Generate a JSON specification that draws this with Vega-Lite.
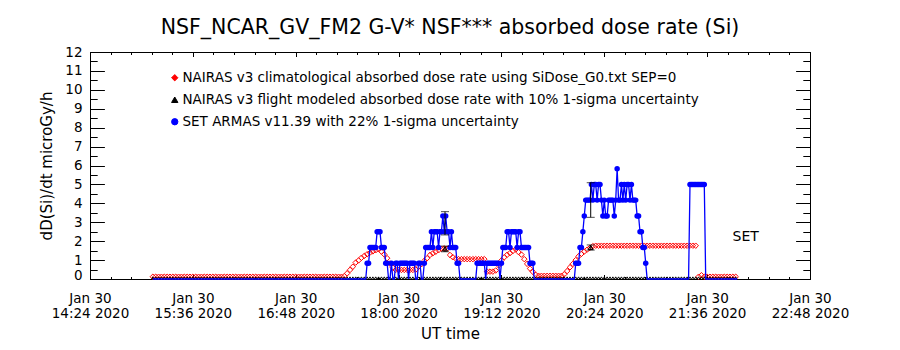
{
"$schema": "https://vega.github.io/schema/vega-lite/v6.json",
"width": 720, "height": 227,
"autosize": {"type": "none"},
"padding": {"left": 90, "top": 52, "right": 90, "bottom": 71},
"background": "white",
"title": {"text": "NSF_NCAR_GV_FM2 G-V* NSF*** absorbed dose rate (Si)", "anchor": "middle", "font": "DejaVu Sans", "fontSize": 20.5, "fontWeight": "normal", "color": "black", "offset": 7},
"config": {
  "view": {"stroke": "black", "strokeWidth": 1},
  "font": "DejaVu Sans",
  "axis": {"grid": false, "domain": false, "labelColor": "black", "tickColor": "black", "titleColor": "black", "labelFont": "DejaVu Sans", "titleFont": "DejaVu Sans", "titleFontWeight": "normal", "tickWidth": 1}
},
"datasets": {
"model": [
{"t":"2020-01-30T15:08:00Z","clim":0.12,"flight":0},{"t":"2020-01-30T15:10:00Z","clim":0.12,"flight":0},{"t":"2020-01-30T15:12:00Z","clim":0.12,"flight":0},{"t":"2020-01-30T15:14:00Z","clim":0.12,"flight":0},{"t":"2020-01-30T15:16:00Z","clim":0.12,"flight":0},{"t":"2020-01-30T15:18:00Z","clim":0.12,"flight":0},{"t":"2020-01-30T15:20:00Z","clim":0.12,"flight":0},{"t":"2020-01-30T15:22:00Z","clim":0.12,"flight":0},{"t":"2020-01-30T15:24:00Z","clim":0.12,"flight":0},{"t":"2020-01-30T15:26:00Z","clim":0.12,"flight":0},{"t":"2020-01-30T15:28:00Z","clim":0.12,"flight":0},{"t":"2020-01-30T15:30:00Z","clim":0.12,"flight":0},{"t":"2020-01-30T15:32:00Z","clim":0.12,"flight":0},{"t":"2020-01-30T15:34:00Z","clim":0.12,"flight":0},{"t":"2020-01-30T15:36:00Z","clim":0.12,"flight":0},{"t":"2020-01-30T15:38:00Z","clim":0.12,"flight":0},{"t":"2020-01-30T15:40:00Z","clim":0.12,"flight":0},{"t":"2020-01-30T15:42:00Z","clim":0.12,"flight":0},{"t":"2020-01-30T15:44:00Z","clim":0.12,"flight":0},{"t":"2020-01-30T15:46:00Z","clim":0.12,"flight":0},{"t":"2020-01-30T15:48:00Z","clim":0.12,"flight":0},{"t":"2020-01-30T15:50:00Z","clim":0.12,"flight":0},{"t":"2020-01-30T15:52:00Z","clim":0.12,"flight":0},{"t":"2020-01-30T15:54:00Z","clim":0.12,"flight":0},{"t":"2020-01-30T15:56:00Z","clim":0.12,"flight":0},{"t":"2020-01-30T15:58:00Z","clim":0.12,"flight":0},
{"t":"2020-01-30T16:00:00Z","clim":0.12,"flight":0},{"t":"2020-01-30T16:02:00Z","clim":0.12,"flight":0},{"t":"2020-01-30T16:04:00Z","clim":0.12,"flight":0},{"t":"2020-01-30T16:06:00Z","clim":0.12,"flight":0},{"t":"2020-01-30T16:08:00Z","clim":0.12,"flight":0},{"t":"2020-01-30T16:10:00Z","clim":0.12,"flight":0},{"t":"2020-01-30T16:12:00Z","clim":0.12,"flight":0},{"t":"2020-01-30T16:14:00Z","clim":0.12,"flight":0},{"t":"2020-01-30T16:16:00Z","clim":0.12,"flight":0},{"t":"2020-01-30T16:18:00Z","clim":0.12,"flight":0},{"t":"2020-01-30T16:20:00Z","clim":0.12,"flight":0},{"t":"2020-01-30T16:22:00Z","clim":0.12,"flight":0},{"t":"2020-01-30T16:24:00Z","clim":0.12,"flight":0},{"t":"2020-01-30T16:26:00Z","clim":0.12,"flight":0},{"t":"2020-01-30T16:28:00Z","clim":0.12,"flight":0},{"t":"2020-01-30T16:30:00Z","clim":0.12,"flight":0},{"t":"2020-01-30T16:32:00Z","clim":0.12,"flight":0},{"t":"2020-01-30T16:34:00Z","clim":0.12,"flight":0},{"t":"2020-01-30T16:36:00Z","clim":0.12,"flight":0},{"t":"2020-01-30T16:38:00Z","clim":0.12,"flight":0},{"t":"2020-01-30T16:40:00Z","clim":0.12,"flight":0},{"t":"2020-01-30T16:42:00Z","clim":0.12,"flight":0},{"t":"2020-01-30T16:44:00Z","clim":0.12,"flight":0},{"t":"2020-01-30T16:46:00Z","clim":0.12,"flight":0},{"t":"2020-01-30T16:48:00Z","clim":0.12,"flight":0},{"t":"2020-01-30T16:50:00Z","clim":0.12,"flight":0},{"t":"2020-01-30T16:52:00Z","clim":0.12,"flight":0},{"t":"2020-01-30T16:54:00Z","clim":0.12,"flight":0},{"t":"2020-01-30T16:56:00Z","clim":0.12,"flight":0},{"t":"2020-01-30T16:58:00Z","clim":0.12,"flight":0},
{"t":"2020-01-30T17:00:00Z","clim":0.12,"flight":0},{"t":"2020-01-30T17:02:00Z","clim":0.12,"flight":0},{"t":"2020-01-30T17:04:00Z","clim":0.12,"flight":0},{"t":"2020-01-30T17:06:00Z","clim":0.12,"flight":0},{"t":"2020-01-30T17:08:00Z","clim":0.12,"flight":0},{"t":"2020-01-30T17:10:00Z","clim":0.12,"flight":0},{"t":"2020-01-30T17:12:00Z","clim":0.12,"flight":0},{"t":"2020-01-30T17:14:00Z","clim":0.12,"flight":0},{"t":"2020-01-30T17:16:00Z","clim":0.12,"flight":0},{"t":"2020-01-30T17:18:00Z","clim":0.12,"flight":0},{"t":"2020-01-30T17:20:00Z","clim":0.12,"flight":0},
{"t":"2020-01-30T17:22:00Z","clim":0.15,"flight":0},{"t":"2020-01-30T17:24:00Z","clim":0.3,"flight":0},{"t":"2020-01-30T17:26:00Z","clim":0.48,"flight":0},{"t":"2020-01-30T17:28:00Z","clim":0.65,"flight":0},{"t":"2020-01-30T17:30:00Z","clim":0.87,"flight":0},{"t":"2020-01-30T17:32:00Z","clim":0.98,"flight":0},{"t":"2020-01-30T17:34:00Z","clim":1.12,"flight":0},{"t":"2020-01-30T17:36:00Z","clim":1.22,"flight":0},{"t":"2020-01-30T17:38:00Z","clim":1.31,"flight":0},{"t":"2020-01-30T17:40:00Z","clim":1.39,"flight":0},{"t":"2020-01-30T17:42:00Z","clim":1.46,"flight":0},{"t":"2020-01-30T17:44:00Z","clim":1.52,"flight":0},{"t":"2020-01-30T17:46:00Z","clim":1.57,"flight":0},{"t":"2020-01-30T17:48:00Z","clim":1.45,"flight":0},{"t":"2020-01-30T17:50:00Z","clim":1.3,"flight":0},{"t":"2020-01-30T17:52:00Z","clim":1.1,"flight":0},{"t":"2020-01-30T17:54:00Z","clim":0.82,"flight":0},{"t":"2020-01-30T17:56:00Z","clim":0.6,"flight":0},{"t":"2020-01-30T17:58:00Z","clim":0.48,"flight":0},
{"t":"2020-01-30T18:00:00Z","clim":0.48,"flight":0},{"t":"2020-01-30T18:02:00Z","clim":0.48,"flight":0},{"t":"2020-01-30T18:04:00Z","clim":0.48,"flight":0},{"t":"2020-01-30T18:06:00Z","clim":0.48,"flight":0},{"t":"2020-01-30T18:08:00Z","clim":0.48,"flight":0},{"t":"2020-01-30T18:10:00Z","clim":0.48,"flight":0},{"t":"2020-01-30T18:12:00Z","clim":0.5,"flight":0},{"t":"2020-01-30T18:14:00Z","clim":0.65,"flight":0},{"t":"2020-01-30T18:16:00Z","clim":0.78,"flight":0},{"t":"2020-01-30T18:18:00Z","clim":0.96,"flight":0},{"t":"2020-01-30T18:20:00Z","clim":1.1,"flight":0},{"t":"2020-01-30T18:22:00Z","clim":1.27,"flight":0},{"t":"2020-01-30T18:24:00Z","clim":1.36,"flight":0},{"t":"2020-01-30T18:26:00Z","clim":1.44,"flight":0},{"t":"2020-01-30T18:28:00Z","clim":1.52,"flight":0},{"t":"2020-01-30T18:30:00Z","clim":1.6,"flight":0},{"t":"2020-01-30T18:32:00Z","clim":1.62,"flight":0},{"t":"2020-01-30T18:34:00Z","clim":1.6,"flight":0},{"t":"2020-01-30T18:36:00Z","clim":1.27,"flight":0},{"t":"2020-01-30T18:38:00Z","clim":1.15,"flight":0},{"t":"2020-01-30T18:40:00Z","clim":1.08,"flight":0},{"t":"2020-01-30T18:42:00Z","clim":1.05,"flight":0},{"t":"2020-01-30T18:44:00Z","clim":1.05,"flight":0},{"t":"2020-01-30T18:46:00Z","clim":1.05,"flight":0},{"t":"2020-01-30T18:48:00Z","clim":1.05,"flight":0},{"t":"2020-01-30T18:50:00Z","clim":1.05,"flight":0},{"t":"2020-01-30T18:52:00Z","clim":1.05,"flight":0},{"t":"2020-01-30T18:54:00Z","clim":1.05,"flight":0},{"t":"2020-01-30T18:56:00Z","clim":1.05,"flight":0},{"t":"2020-01-30T18:58:00Z","clim":1.05,"flight":0},
{"t":"2020-01-30T19:00:00Z","clim":1.05,"flight":0},{"t":"2020-01-30T19:02:00Z","clim":0.39,"flight":0},{"t":"2020-01-30T19:04:00Z","clim":0.39,"flight":0},{"t":"2020-01-30T19:06:00Z","clim":0.39,"flight":0},{"t":"2020-01-30T19:08:00Z","clim":0.45,"flight":0},{"t":"2020-01-30T19:10:00Z","clim":0.72,"flight":0},{"t":"2020-01-30T19:12:00Z","clim":0.98,"flight":0},{"t":"2020-01-30T19:14:00Z","clim":1.15,"flight":0},{"t":"2020-01-30T19:16:00Z","clim":1.28,"flight":0},{"t":"2020-01-30T19:18:00Z","clim":1.37,"flight":0},{"t":"2020-01-30T19:20:00Z","clim":1.48,"flight":0},{"t":"2020-01-30T19:22:00Z","clim":1.57,"flight":0},{"t":"2020-01-30T19:24:00Z","clim":1.42,"flight":0},{"t":"2020-01-30T19:26:00Z","clim":1.29,"flight":0},{"t":"2020-01-30T19:28:00Z","clim":1.05,"flight":0},{"t":"2020-01-30T19:30:00Z","clim":0.8,"flight":0},{"t":"2020-01-30T19:32:00Z","clim":0.55,"flight":0},{"t":"2020-01-30T19:34:00Z","clim":0.38,"flight":0},{"t":"2020-01-30T19:36:00Z","clim":0.22,"flight":0},{"t":"2020-01-30T19:38:00Z","clim":0.17,"flight":0},{"t":"2020-01-30T19:40:00Z","clim":0.17,"flight":0},{"t":"2020-01-30T19:42:00Z","clim":0.17,"flight":0},{"t":"2020-01-30T19:44:00Z","clim":0.17,"flight":0},{"t":"2020-01-30T19:46:00Z","clim":0.17,"flight":0},{"t":"2020-01-30T19:48:00Z","clim":0.17,"flight":0},{"t":"2020-01-30T19:50:00Z","clim":0.17,"flight":0},{"t":"2020-01-30T19:52:00Z","clim":0.17,"flight":0},{"t":"2020-01-30T19:54:00Z","clim":0.17,"flight":0},{"t":"2020-01-30T19:56:00Z","clim":0.25,"flight":0},{"t":"2020-01-30T19:58:00Z","clim":0.42,"flight":0},
{"t":"2020-01-30T20:00:00Z","clim":0.62,"flight":0},{"t":"2020-01-30T20:02:00Z","clim":0.8,"flight":0},{"t":"2020-01-30T20:04:00Z","clim":1.0,"flight":0},{"t":"2020-01-30T20:06:00Z","clim":1.2,"flight":0},{"t":"2020-01-30T20:08:00Z","clim":1.33,"flight":0},{"t":"2020-01-30T20:10:00Z","clim":1.45,"flight":0},{"t":"2020-01-30T20:12:00Z","clim":1.55,"flight":0},{"t":"2020-01-30T20:14:00Z","clim":1.65,"flight":0},{"t":"2020-01-30T20:16:00Z","clim":1.74,"flight":0},{"t":"2020-01-30T20:18:00Z","clim":1.76,"flight":0},{"t":"2020-01-30T20:20:00Z","clim":1.76,"flight":0},{"t":"2020-01-30T20:22:00Z","clim":1.76,"flight":0},{"t":"2020-01-30T20:24:00Z","clim":1.76,"flight":0},{"t":"2020-01-30T20:26:00Z","clim":1.76,"flight":0},{"t":"2020-01-30T20:28:00Z","clim":1.76,"flight":0},{"t":"2020-01-30T20:30:00Z","clim":1.76,"flight":0},{"t":"2020-01-30T20:32:00Z","clim":1.76,"flight":0},{"t":"2020-01-30T20:34:00Z","clim":1.76,"flight":0},{"t":"2020-01-30T20:36:00Z","clim":1.76,"flight":0},{"t":"2020-01-30T20:38:00Z","clim":1.76,"flight":0},{"t":"2020-01-30T20:40:00Z","clim":1.76,"flight":0},{"t":"2020-01-30T20:42:00Z","clim":1.76,"flight":0},{"t":"2020-01-30T20:44:00Z","clim":1.76,"flight":0},{"t":"2020-01-30T20:46:00Z","clim":1.76,"flight":0},{"t":"2020-01-30T20:48:00Z","clim":1.76,"flight":0},{"t":"2020-01-30T20:50:00Z","clim":1.76,"flight":0},{"t":"2020-01-30T20:52:00Z","clim":1.76,"flight":0},{"t":"2020-01-30T20:54:00Z","clim":1.76,"flight":0},{"t":"2020-01-30T20:56:00Z","clim":1.76,"flight":0},{"t":"2020-01-30T20:58:00Z","clim":1.76,"flight":0},
{"t":"2020-01-30T21:00:00Z","clim":1.76,"flight":0},{"t":"2020-01-30T21:02:00Z","clim":1.76,"flight":0},{"t":"2020-01-30T21:04:00Z","clim":1.76,"flight":0},{"t":"2020-01-30T21:06:00Z","clim":1.76,"flight":0},{"t":"2020-01-30T21:08:00Z","clim":1.76,"flight":0},{"t":"2020-01-30T21:10:00Z","clim":1.76,"flight":0},{"t":"2020-01-30T21:12:00Z","clim":1.76,"flight":0},{"t":"2020-01-30T21:14:00Z","clim":1.76,"flight":0},{"t":"2020-01-30T21:16:00Z","clim":1.76,"flight":0},{"t":"2020-01-30T21:18:00Z","clim":1.76,"flight":0},{"t":"2020-01-30T21:20:00Z","clim":1.76,"flight":0},{"t":"2020-01-30T21:22:00Z","clim":1.76,"flight":0},{"t":"2020-01-30T21:24:00Z","clim":1.76,"flight":0},{"t":"2020-01-30T21:26:00Z","clim":1.76,"flight":0},{"t":"2020-01-30T21:28:00Z","clim":1.76,"flight":0},{"t":"2020-01-30T21:30:00Z","clim":0.12,"flight":0},{"t":"2020-01-30T21:32:00Z","clim":0.2,"flight":0},{"t":"2020-01-30T21:34:00Z","clim":0.12,"flight":0},{"t":"2020-01-30T21:36:00Z","clim":0.12,"flight":0},{"t":"2020-01-30T21:38:00Z","clim":0.12,"flight":0},{"t":"2020-01-30T21:40:00Z","clim":0.12,"flight":0},{"t":"2020-01-30T21:42:00Z","clim":0.12,"flight":0},{"t":"2020-01-30T21:44:00Z","clim":0.12,"flight":0},{"t":"2020-01-30T21:46:00Z","clim":0.12,"flight":0},{"t":"2020-01-30T21:48:00Z","clim":0.12,"flight":0},{"t":"2020-01-30T21:50:00Z","clim":0.12,"flight":0},{"t":"2020-01-30T21:52:00Z","clim":0.12,"flight":0},{"t":"2020-01-30T21:54:00Z","clim":0.12,"flight":0},{"t":"2020-01-30T21:56:00Z","clim":0.12,"flight":0},
{"t":"2020-01-30T18:32:30Z","flight":1.59},{"t":"2020-01-30T20:14:30Z","flight":1.665}
],
"set": [
{"t":"2020-01-30T15:08:00Z","dose":0},{"t":"2020-01-30T17:37:00Z","dose":0},{"t":"2020-01-30T17:38:00Z","dose":0.83},{"t":"2020-01-30T17:39:00Z","dose":0.83},{"t":"2020-01-30T17:40:00Z","dose":1.67},{"t":"2020-01-30T17:41:00Z","dose":1.67},{"t":"2020-01-30T17:42:00Z","dose":1.67},{"t":"2020-01-30T17:43:00Z","dose":1.67},{"t":"2020-01-30T17:44:00Z","dose":1.67},{"t":"2020-01-30T17:45:00Z","dose":2.5},{"t":"2020-01-30T17:46:00Z","dose":2.5},{"t":"2020-01-30T17:47:00Z","dose":2.5},{"t":"2020-01-30T17:48:00Z","dose":1.67},{"t":"2020-01-30T17:49:00Z","dose":1.67},{"t":"2020-01-30T17:50:00Z","dose":1.67},{"t":"2020-01-30T17:51:00Z","dose":0.83},{"t":"2020-01-30T17:52:00Z","dose":0.83},{"t":"2020-01-30T17:53:00Z","dose":0},{"t":"2020-01-30T17:54:00Z","dose":0},{"t":"2020-01-30T17:55:00Z","dose":0.83},{"t":"2020-01-30T17:56:00Z","dose":0},{"t":"2020-01-30T17:57:00Z","dose":0},{"t":"2020-01-30T17:58:00Z","dose":0.83},{"t":"2020-01-30T17:59:00Z","dose":0.83},
{"t":"2020-01-30T18:00:00Z","dose":0},{"t":"2020-01-30T18:01:00Z","dose":0.83},{"t":"2020-01-30T18:02:00Z","dose":0.83},{"t":"2020-01-30T18:03:00Z","dose":0.83},{"t":"2020-01-30T18:04:00Z","dose":0.83},{"t":"2020-01-30T18:05:00Z","dose":0.83},{"t":"2020-01-30T18:06:00Z","dose":0.83},{"t":"2020-01-30T18:07:00Z","dose":0},{"t":"2020-01-30T18:08:00Z","dose":0.83},{"t":"2020-01-30T18:09:00Z","dose":0.83},{"t":"2020-01-30T18:10:00Z","dose":0.83},{"t":"2020-01-30T18:11:00Z","dose":0.83},{"t":"2020-01-30T18:12:00Z","dose":0},{"t":"2020-01-30T18:13:00Z","dose":0},{"t":"2020-01-30T18:14:00Z","dose":0.83},{"t":"2020-01-30T18:15:00Z","dose":0.83},{"t":"2020-01-30T18:16:00Z","dose":0},{"t":"2020-01-30T18:17:00Z","dose":0},{"t":"2020-01-30T18:18:00Z","dose":0.83},{"t":"2020-01-30T18:19:00Z","dose":1.67},{"t":"2020-01-30T18:20:00Z","dose":1.67},{"t":"2020-01-30T18:21:00Z","dose":1.67},{"t":"2020-01-30T18:22:00Z","dose":1.67},{"t":"2020-01-30T18:23:00Z","dose":2.5},{"t":"2020-01-30T18:24:00Z","dose":1.67},{"t":"2020-01-30T18:25:00Z","dose":2.5},{"t":"2020-01-30T18:26:00Z","dose":2.5},{"t":"2020-01-30T18:27:00Z","dose":2.5},{"t":"2020-01-30T18:28:00Z","dose":1.67},{"t":"2020-01-30T18:29:00Z","dose":2.5},{"t":"2020-01-30T18:30:00Z","dose":2.5},{"t":"2020-01-30T18:31:00Z","dose":3.33},{"t":"2020-01-30T18:32:00Z","dose":2.5},{"t":"2020-01-30T18:33:00Z","dose":3.33},{"t":"2020-01-30T18:34:00Z","dose":2.5},{"t":"2020-01-30T18:35:00Z","dose":2.5},{"t":"2020-01-30T18:36:00Z","dose":1.67},{"t":"2020-01-30T18:37:00Z","dose":2.5},{"t":"2020-01-30T18:38:00Z","dose":1.67},{"t":"2020-01-30T18:39:00Z","dose":1.67},{"t":"2020-01-30T18:40:00Z","dose":1.67},{"t":"2020-01-30T18:41:00Z","dose":0.83},{"t":"2020-01-30T18:42:00Z","dose":0.83},{"t":"2020-01-30T18:43:00Z","dose":0},
{"t":"2020-01-30T18:54:00Z","dose":0},{"t":"2020-01-30T18:55:00Z","dose":0.83},{"t":"2020-01-30T18:56:00Z","dose":0.83},{"t":"2020-01-30T18:57:00Z","dose":0.83},{"t":"2020-01-30T18:58:00Z","dose":0.83},{"t":"2020-01-30T18:59:00Z","dose":0.83},{"t":"2020-01-30T19:00:00Z","dose":0.83},{"t":"2020-01-30T19:01:00Z","dose":0},{"t":"2020-01-30T19:02:00Z","dose":0.83},{"t":"2020-01-30T19:03:00Z","dose":0.83},{"t":"2020-01-30T19:04:00Z","dose":0.83},{"t":"2020-01-30T19:05:00Z","dose":0.83},{"t":"2020-01-30T19:06:00Z","dose":0.83},{"t":"2020-01-30T19:07:00Z","dose":0.83},{"t":"2020-01-30T19:08:00Z","dose":0.83},{"t":"2020-01-30T19:09:00Z","dose":0.83},{"t":"2020-01-30T19:10:00Z","dose":0.83},{"t":"2020-01-30T19:11:00Z","dose":0},{"t":"2020-01-30T19:12:00Z","dose":0.83},{"t":"2020-01-30T19:13:00Z","dose":1.67},{"t":"2020-01-30T19:14:00Z","dose":1.67},{"t":"2020-01-30T19:15:00Z","dose":1.67},{"t":"2020-01-30T19:16:00Z","dose":2.5},{"t":"2020-01-30T19:17:00Z","dose":2.5},{"t":"2020-01-30T19:18:00Z","dose":1.67},{"t":"2020-01-30T19:19:00Z","dose":2.5},{"t":"2020-01-30T19:20:00Z","dose":2.5},{"t":"2020-01-30T19:21:00Z","dose":2.5},{"t":"2020-01-30T19:22:00Z","dose":2.5},{"t":"2020-01-30T19:23:00Z","dose":1.67},{"t":"2020-01-30T19:24:00Z","dose":2.5},{"t":"2020-01-30T19:25:00Z","dose":2.5},{"t":"2020-01-30T19:26:00Z","dose":1.67},{"t":"2020-01-30T19:27:00Z","dose":1.67},{"t":"2020-01-30T19:28:00Z","dose":1.67},{"t":"2020-01-30T19:29:00Z","dose":1.67},{"t":"2020-01-30T19:30:00Z","dose":1.67},{"t":"2020-01-30T19:31:00Z","dose":1.67},{"t":"2020-01-30T19:32:00Z","dose":0.83},{"t":"2020-01-30T19:33:00Z","dose":0.83},{"t":"2020-01-30T19:34:00Z","dose":0.83},{"t":"2020-01-30T19:35:00Z","dose":0},
{"t":"2020-01-30T20:03:00Z","dose":0},{"t":"2020-01-30T20:04:00Z","dose":0.83},{"t":"2020-01-30T20:05:00Z","dose":0.83},{"t":"2020-01-30T20:06:00Z","dose":0.83},{"t":"2020-01-30T20:07:00Z","dose":1.67},{"t":"2020-01-30T20:08:00Z","dose":1.67},{"t":"2020-01-30T20:09:00Z","dose":2.5},{"t":"2020-01-30T20:10:00Z","dose":3.33},{"t":"2020-01-30T20:11:00Z","dose":4.17},{"t":"2020-01-30T20:12:00Z","dose":4.17},{"t":"2020-01-30T20:13:00Z","dose":4.17},{"t":"2020-01-30T20:14:00Z","dose":4.17},{"t":"2020-01-30T20:15:00Z","dose":5.0},{"t":"2020-01-30T20:16:00Z","dose":4.17},{"t":"2020-01-30T20:17:00Z","dose":5.0},{"t":"2020-01-30T20:18:00Z","dose":5.0},{"t":"2020-01-30T20:19:00Z","dose":4.17},{"t":"2020-01-30T20:20:00Z","dose":5.0},{"t":"2020-01-30T20:21:00Z","dose":5.0},{"t":"2020-01-30T20:22:00Z","dose":4.17},{"t":"2020-01-30T20:23:00Z","dose":3.33},{"t":"2020-01-30T20:24:00Z","dose":4.17},{"t":"2020-01-30T20:25:00Z","dose":3.33},{"t":"2020-01-30T20:26:00Z","dose":3.33},{"t":"2020-01-30T20:27:00Z","dose":4.17},{"t":"2020-01-30T20:28:00Z","dose":4.17},{"t":"2020-01-30T20:29:00Z","dose":4.17},{"t":"2020-01-30T20:30:00Z","dose":4.17},{"t":"2020-01-30T20:31:00Z","dose":3.33},{"t":"2020-01-30T20:32:00Z","dose":4.17},{"t":"2020-01-30T20:33:00Z","dose":5.83},{"t":"2020-01-30T20:34:00Z","dose":4.17},{"t":"2020-01-30T20:35:00Z","dose":4.17},{"t":"2020-01-30T20:36:00Z","dose":5.0},{"t":"2020-01-30T20:37:00Z","dose":4.17},{"t":"2020-01-30T20:38:00Z","dose":5.0},{"t":"2020-01-30T20:39:00Z","dose":4.17},{"t":"2020-01-30T20:40:00Z","dose":5.0},{"t":"2020-01-30T20:41:00Z","dose":5.0},{"t":"2020-01-30T20:42:00Z","dose":4.17},{"t":"2020-01-30T20:43:00Z","dose":5.0},{"t":"2020-01-30T20:44:00Z","dose":4.17},{"t":"2020-01-30T20:45:00Z","dose":4.17},{"t":"2020-01-30T20:46:00Z","dose":4.17},{"t":"2020-01-30T20:47:00Z","dose":3.33},{"t":"2020-01-30T20:48:00Z","dose":3.33},{"t":"2020-01-30T20:49:00Z","dose":2.5},{"t":"2020-01-30T20:50:00Z","dose":2.5},{"t":"2020-01-30T20:51:00Z","dose":1.67},{"t":"2020-01-30T20:52:00Z","dose":1.67},{"t":"2020-01-30T20:53:00Z","dose":0.83},{"t":"2020-01-30T20:54:00Z","dose":0},
{"t":"2020-01-30T21:23:00Z","dose":0},{"t":"2020-01-30T21:24:00Z","dose":5.0},{"t":"2020-01-30T21:25:00Z","dose":5.0},{"t":"2020-01-30T21:26:00Z","dose":5.0},{"t":"2020-01-30T21:27:00Z","dose":5.0},{"t":"2020-01-30T21:28:00Z","dose":5.0},{"t":"2020-01-30T21:29:00Z","dose":5.0},{"t":"2020-01-30T21:30:00Z","dose":5.0},{"t":"2020-01-30T21:31:00Z","dose":5.0},{"t":"2020-01-30T21:32:00Z","dose":5.0},{"t":"2020-01-30T21:33:00Z","dose":5.0},{"t":"2020-01-30T21:34:00Z","dose":5.0},{"t":"2020-01-30T21:35:00Z","dose":0},{"t":"2020-01-30T21:57:00Z","dose":0}
],
"bars": [
{"t":"2020-01-30T18:32:30Z","lo":2.33,"hi":3.56},{"t":"2020-01-30T18:32:30Z","lo":1.44,"hi":1.74},
{"t":"2020-01-30T20:14:30Z","lo":3.26,"hi":5.09},{"t":"2020-01-30T20:14:30Z","lo":1.53,"hi":1.8}
],
"note": [{"t":"2020-01-30T22:03:00Z","v":2.2,"label":"SET"}]
},
"layer": [
{
 "data": {"name": "model"},
 "mark": {"type": "point", "filled": false, "size": 30, "strokeWidth": 1, "opacity": 1},
 "encoding": {
  "x": {"field": "t", "type": "temporal", "scale": {"type": "utc", "domain": [1580394240000, 1580424480000]},
        "axis": {"orient": "bottom", "values": [1580394240000,1580398560000,1580402880000,1580407200000,1580411520000,1580415840000,1580420160000,1580424480000], "ticks": false, "labelExpr": "[utcFormat(datum.value, '%b %d'), utcFormat(datum.value, '%H:%M %Y')]", "labelFontSize": 13.5, "labelPadding": 12, "labelLineHeight": 15.5, "labelOverlap": false, "labelFlush": false, "labelBound": false, "title": "UT time", "titleFontSize": 15, "titlePadding": 6}},
  "y": {"field": "clim", "type": "quantitative", "scale": {"domain": [0, 12], "nice": false, "zero": false},
        "axis": {"orient": "left", "values": [0,1,2,3,4,5,6,7,8,9,10,11,12], "ticks": false, "labelFontSize": 13.5, "labelPadding": 8, "labelFlush": false, "labelOverlap": false, "labelBaseline": {"condition": {"test": "datum.value === 0", "value": "alphabetic"}, "value": "middle"}, "title": "dD(Si)/dt microGy/h", "titleFontSize": 15, "titlePadding": 10}},
  "color": {"datum": "NAIRAS v3 climatological absorbed dose rate using SiDose_G0.txt SEP=0", "type": "nominal",
        "scale": {"domain": ["NAIRAS v3 climatological absorbed dose rate using SiDose_G0.txt SEP=0", "NAIRAS v3 flight modeled absorbed dose rate with 10% 1-sigma uncertainty", "SET ARMAS v11.39 with 22% 1-sigma uncertainty"], "range": ["#ff0000", "#000000", "#0000ff"]},
        "legend": {"orient": "none", "legendX": 78, "legendY": 19, "title": null, "labelFont": "DejaVu Sans", "labelFontSize": 13.5, "labelColor": "black", "labelLimit": 0, "labelOffset": 1, "symbolSize": 40, "symbolStrokeWidth": 1, "symbolOpacity": 1, "rowPadding": 7, "padding": 0,
          "encode": {"symbols": {"update": {
            "shape": {"signal": "indexof(datum.value, 'SET') === 0 ? 'circle' : (indexof(datum.value, 'flight') > 0 ? 'triangle-up' : 'diamond')"},
            "fill": {"signal": "indexof(datum.value, 'SET') === 0 ? '#0000ff' : 'transparent'"},
            "stroke": {"signal": "scale('color', datum.value)"},
            "strokeWidth": {"value": 1},
            "opacity": {"value": 1}}}}}},
  "shape": {"datum": "NAIRAS v3 climatological absorbed dose rate using SiDose_G0.txt SEP=0", "type": "nominal",
        "scale": {"domain": ["NAIRAS v3 climatological absorbed dose rate using SiDose_G0.txt SEP=0", "NAIRAS v3 flight modeled absorbed dose rate with 10% 1-sigma uncertainty", "SET ARMAS v11.39 with 22% 1-sigma uncertainty"], "range": ["diamond", "triangle-up", "circle"]}, "legend": null}
 }
},
{
 "data": {"name": "model"},
 "mark": {"type": "point", "filled": false, "size": 24, "strokeWidth": 1, "opacity": 1, "clip": true},
 "encoding": {
  "x": {"field": "t", "type": "temporal", "axis": {"orient": "bottom", "values": [1580394240000,1580398560000,1580402880000,1580407200000,1580411520000,1580415840000,1580420160000,1580424480000], "labels": false, "ticks": true, "tickSize": 4.5, "offset": -4.5, "title": null}},
  "y": {"field": "flight", "type": "quantitative", "axis": {"orient": "left", "values": [0,1,2,3,4,5,6,7,8,9,10,11,12], "labels": false, "ticks": true, "tickSize": 14.4, "offset": -14.4, "title": null}},
  "color": {"datum": "NAIRAS v3 flight modeled absorbed dose rate with 10% 1-sigma uncertainty", "type": "nominal"},
  "shape": {"datum": "NAIRAS v3 flight modeled absorbed dose rate with 10% 1-sigma uncertainty", "type": "nominal"}
 }
},
{
 "data": {"name": "set"},
 "mark": {"type": "line", "strokeWidth": 1.3, "opacity": 1},
 "encoding": {
  "x": {"field": "t", "type": "temporal", "axis": {"orient": "bottom", "values": [1580394240000,1580395104000,1580395968000,1580396832000,1580397696000,1580398560000,1580399424000,1580400288000,1580401152000,1580402016000,1580402880000,1580403744000,1580404608000,1580405472000,1580406336000,1580407200000,1580408064000,1580408928000,1580409792000,1580410656000,1580411520000,1580412384000,1580413248000,1580414112000,1580414976000,1580415840000,1580416704000,1580417568000,1580418432000,1580419296000,1580420160000,1580421024000,1580421888000,1580422752000,1580423616000,1580424480000], "labels": false, "ticks": true, "tickSize": 2.5, "offset": -2.5, "title": null}},
  "y": {"field": "dose", "type": "quantitative", "axis": {"orient": "left", "values": [0,0.5,1,1.5,2,2.5,3,3.5,4,4.5,5,5.5,6,6.5,7,7.5,8,8.5,9,9.5,10,10.5,11,11.5,12], "labels": false, "ticks": true, "tickSize": 7.2, "offset": -7.2, "title": null}},
  "color": {"datum": "SET ARMAS v11.39 with 22% 1-sigma uncertainty", "type": "nominal"}
 }
},
{
 "data": {"name": "set"},
 "transform": [{"filter": "datum.dose > 0"}],
 "mark": {"type": "point", "filled": true, "size": 30, "opacity": 1},
 "encoding": {
  "x": {"field": "t", "type": "temporal", "axis": {"orient": "top", "values": [1580394240000,1580398560000,1580402880000,1580407200000,1580411520000,1580415840000,1580420160000,1580424480000], "labels": false, "ticks": true, "tickSize": 4.5, "offset": -4.5, "title": null}},
  "y": {"field": "dose", "type": "quantitative", "axis": {"orient": "right", "values": [0,1,2,3,4,5,6,7,8,9,10,11,12], "labels": false, "ticks": true, "tickSize": 14.4, "offset": -14.4, "title": null}},
  "color": {"datum": "SET ARMAS v11.39 with 22% 1-sigma uncertainty", "type": "nominal"},
  "shape": {"datum": "SET ARMAS v11.39 with 22% 1-sigma uncertainty", "type": "nominal"}
 }
},
{
 "data": {"name": "bars"},
 "mark": {"type": "errorbar", "ticks": {"size": 8, "color": "black", "thickness": 1}, "rule": {"color": "black", "strokeWidth": 1}},
 "encoding": {
  "x": {"field": "t", "type": "temporal", "axis": null},
  "y": {"field": "lo", "type": "quantitative", "axis": null},
  "y2": {"field": "hi"}
 }
},
{
 "data": {"name": "note"},
 "mark": {"type": "text", "font": "DejaVu Sans", "fontSize": 14, "color": "black", "align": "center", "baseline": "middle"},
 "encoding": {
  "x": {"field": "t", "type": "temporal", "axis": {"orient": "top", "values": [1580394240000,1580395104000,1580395968000,1580396832000,1580397696000,1580398560000,1580399424000,1580400288000,1580401152000,1580402016000,1580402880000,1580403744000,1580404608000,1580405472000,1580406336000,1580407200000,1580408064000,1580408928000,1580409792000,1580410656000,1580411520000,1580412384000,1580413248000,1580414112000,1580414976000,1580415840000,1580416704000,1580417568000,1580418432000,1580419296000,1580420160000,1580421024000,1580421888000,1580422752000,1580423616000,1580424480000], "labels": false, "ticks": true, "tickSize": 2.5, "offset": -2.5, "title": null}},
  "y": {"field": "v", "type": "quantitative", "axis": {"orient": "right", "values": [0,0.5,1,1.5,2,2.5,3,3.5,4,4.5,5,5.5,6,6.5,7,7.5,8,8.5,9,9.5,10,10.5,11,11.5,12], "labels": false, "ticks": true, "tickSize": 7.2, "offset": -7.2, "title": null}},
  "text": {"field": "label"}
 }
}
],
"resolve": {"axis": {"x": "independent", "y": "independent"}}
}
